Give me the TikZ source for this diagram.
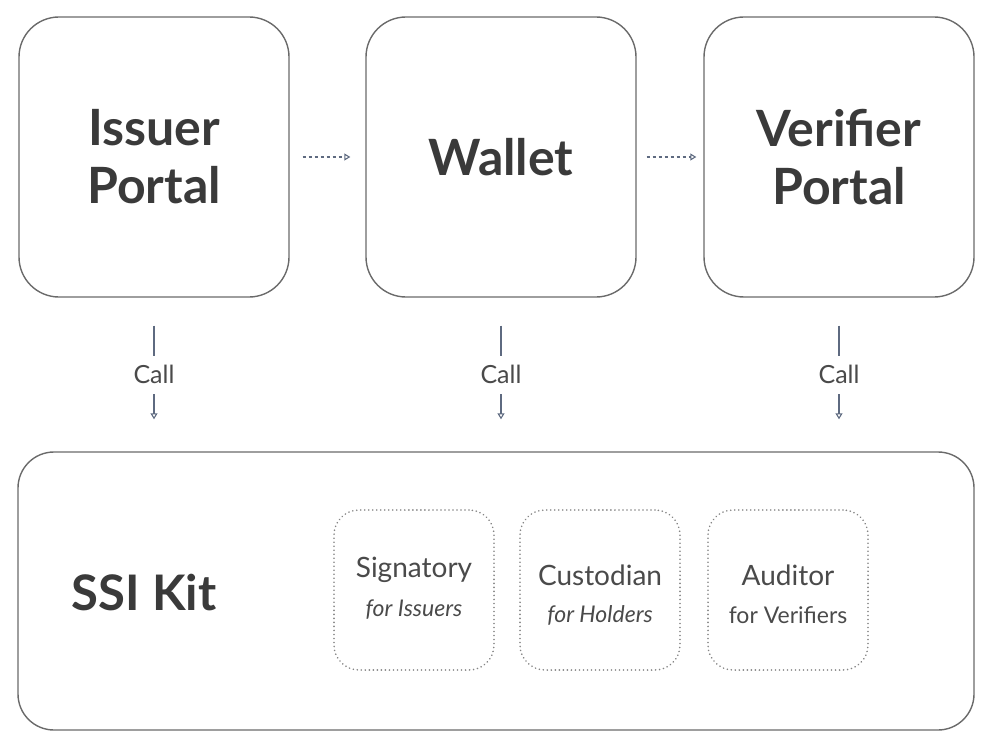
\documentclass[tikz,border=0pt]{standalone}
\usepackage{fontspec}
\setmainfont{Lato}
\usetikzlibrary{arrows.meta}
\definecolor{boxline}{HTML}{6A6A6A}
\definecolor{txt}{HTML}{3A3A3A}
\definecolor{smalltxt}{HTML}{4A4A4A}
\definecolor{arrowc}{HTML}{5E6A80}
\definecolor{dotline}{HTML}{858585}
\tikzset{
  bigbox/.style={draw=boxline, line width=1.4pt, rounded corners=40pt, minimum width=270pt, minimum height=280pt, align=center, text=txt, font=\fontsize{50}{58}\selectfont\bfseries},
  kitbox/.style={draw=boxline, line width=1.4pt, rounded corners=36pt, minimum width=956pt, minimum height=278pt},
  smallbox/.style={draw=dotline, line width=1.8pt, dash pattern=on 0.01pt off 4pt, line cap=round, rounded corners=25pt, minimum width=160pt, minimum height=160pt, align=center, text=smalltxt},
  flowarrow/.style={draw=arrowc, line width=1.1pt, dash pattern=on 3pt off 3pt, -{Triangle[open, length=6pt, width=7pt]}},
  callarrow/.style={draw=arrowc, line width=1.1pt, -{Triangle[open, length=6pt, width=7pt]}},
  calllabel/.style={fill=white, text=smalltxt, font=\fontsize{25}{28}\selectfont, minimum height=38pt, inner sep=1pt},
  maintitle/.style={font=\fontsize{28}{32}\selectfont},
  subtitle/.style={font=\fontsize{23}{26}\selectfont},
}
\begin{document}
\begin{tikzpicture}[x=1pt,y=-1pt]
\useasboundingbox (0,0) rectangle (992,738);
\node[bigbox] (ip) at (154,157) {Issuer\\Portal};
\node[bigbox] (wal) at (501,157) {Wallet};
\node[bigbox] (vp) at (839,157) {Verifier\\Portal};
\node[kitbox] (ssi) at (496,591) {};
\node[text=txt, font=\fontsize{49}{54}\selectfont\bfseries] (kit) at (144,593) {SSI Kit};
\node[smallbox] (sig) at (414,590) {};
\node[smallbox] (cus) at (600,590) {};
\node[smallbox] (aud) at (788,590) {};
\node[maintitle, text=smalltxt] (sigt) at (414,570) {Signatory};
\node[subtitle, text=smalltxt] (sigs) at (414,610) {\itshape for Issuers};
\node[maintitle, text=smalltxt] (cust) at (600,575) {Custodian};
\node[subtitle, text=smalltxt] (cuss) at (600,615) {\itshape for Holders};
\node[maintitle, text=smalltxt] (audt) at (788,575) {Auditor};
\node[subtitle, text=smalltxt] (auds) at (788,615) {for Verifiers};
\draw[flowarrow, shorten <=13pt, shorten >=15pt] (ip.east) -- (wal.west);
\draw[flowarrow, shorten <=10pt, shorten >=7pt] (wal.east) -- (vp.west);
\draw[callarrow, shorten <=28pt, shorten >=32pt] (ip.south) -- node[calllabel] (c1) {Call} (ip.south |- ssi.north);
\draw[callarrow, shorten <=28pt, shorten >=32pt] (wal.south) -- node[calllabel] (c2) {Call} (wal.south |- ssi.north);
\draw[callarrow, shorten <=28pt, shorten >=32pt] (vp.south) -- node[calllabel] (c3) {Call} (vp.south |- ssi.north);
\end{tikzpicture}
\end{document}
